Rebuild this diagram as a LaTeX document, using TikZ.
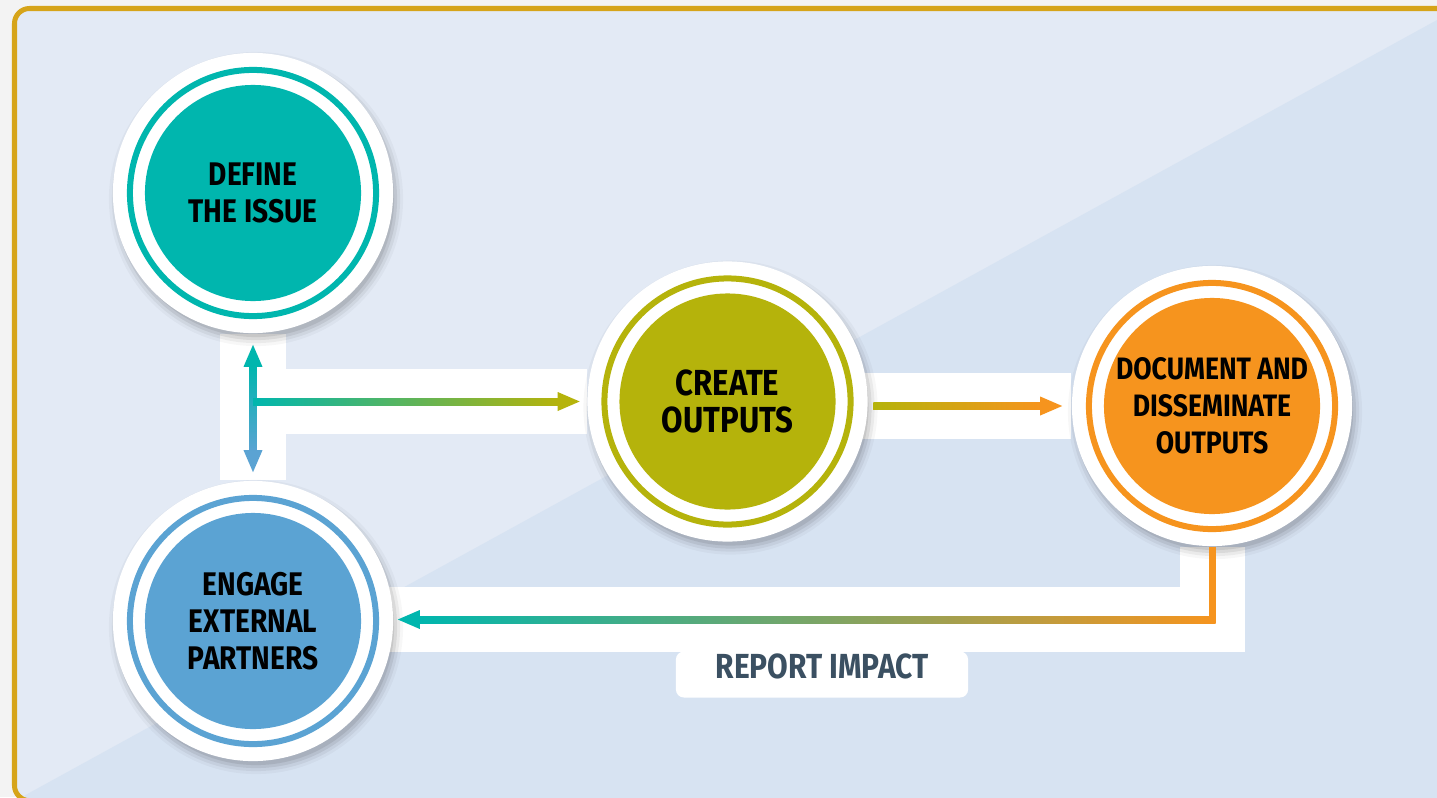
\documentclass[tikz,border=0pt]{standalone}
\usepackage{fontspec}
\newfontfamily\stagefont{Fira Sans}[FakeStretch=0.86]
\usetikzlibrary{arrows.meta,calc}

\pgfdeclarelayer{behind}
\pgfsetlayers{behind,main}

\definecolor{outerBg}{HTML}{F3F3F3}
\definecolor{frameGold}{HTML}{D6A419}
\definecolor{upperBg}{HTML}{E3EAF5}
\definecolor{lowerBg}{HTML}{D7E3F2}
\definecolor{cTeal}{HTML}{00B6AE}
\definecolor{cBlue}{HTML}{5BA3D3}
\definecolor{cOlive}{HTML}{B5B30B}
\definecolor{cOrange}{HTML}{F6941E}
\definecolor{cSlate}{HTML}{3B5062}

\tikzset{
  stage/.style={circle, fill=white, minimum size=2.8cm, inner sep=0pt, align=center,
    font=\stagefont\bfseries\fontsize{9.3}{10.6}\selectfont,
    path picture={
      \draw[#1, line width=0.06cm] (path picture bounding box.center) circle (1.23cm);
      \fill[#1] (path picture bounding box.center) circle (1.08cm);
    }},
  flow/.style={line width=0.07cm, -{Triangle[length=0.23cm, width=0.17cm]}},
  band/.style={white, line width=0.65cm},
}

\begin{document}
\begin{tikzpicture}[x=0.01cm, y=-0.01cm]
\useasboundingbox (0,0) rectangle (1437,797);

% the four stages
\node[stage=cTeal] (define) at (253,193) {DEFINE\\THE ISSUE};
\node[stage=cOlive, font=\stagefont\bfseries\fontsize{10.3}{10.3}\selectfont] (create) at (727.5,401.5) {CREATE\\OUTPUTS};
\node[stage=cOrange, font=\stagefont\bfseries\fontsize{8.8}{10.5}\selectfont] (document) at (1212,406) {DOCUMENT AND\\DISSEMINATE\\OUTPUTS};
\node[stage=cBlue] (engage) at (253,621) {ENGAGE\\EXTERNAL\\PARTNERS};

\coordinate (split) at (define |- create);
\coordinate (turn) at (1212,619.5);

\node[fill=white, rounded corners=0.08cm, minimum width=2.92cm, minimum height=0.46cm,
  inner sep=0pt, text height=0.24cm, text depth=0.17cm, text=cSlate,
  font=\stagefont\bfseries\fontsize{9.9}{10}\selectfont] (report) at (822,674.5) {REPORT IMPACT};

\begin{pgfonlayer}{behind}
\fill[outerBg] (0,0) rectangle (1437,797);
\draw[frameGold, fill=upperBg, line width=0.05cm, rounded corners=0.15cm] (14.5,8.5) rectangle (1480,800.5);
\begin{scope}
\clip[rounded corners=0.13cm] (17,11) rectangle (1478,798);
\fill[lowerBg] (20,798) -- (1480,-3.6) -- (1480,800) -- (20,800) -- cycle;
\end{scope}

% white bands
\draw[band] (define) -- (engage);
\draw[band] (split) -- (create);
\draw[band] (create.center |- document) -- (document);
\draw[band] (document) -- (turn) -- (engage |- turn);

% soft shadows
\foreach \n in {define,create,document,engage}
  \foreach \r/\o in {1.47/0.03,1.44/0.05,1.41/0.07,1.38/0.08}
    \fill[black, opacity=\o] ($(\n)+(3,6)$) circle (\r cm);
\end{pgfonlayer}

% connectors
\draw[flow, cTeal] (split) -- ($(define.south)+(0,10)$);
\draw[flow, cBlue] (split) -- ($(engage.north)+(0,-7)$);
\shade[top color=cTeal, bottom color=cBlue] ($(define.south)+(-3.5,32)$) rectangle ($(engage.north)+(3.5,-29)$);

\draw[flow, cOlive] (split) -- ($(create.west)+(-6,0)$);
\shade[left color=cTeal, right color=cOlive] ($(split)+(0,-3.5)$) rectangle ($(create.west)+(-28,3.5)$);

\draw[flow, cOrange] ($(create.east |- document)+(5,0)$) -- ($(document.west)+(-8,0)$);
\shade[left color=cOlive, right color=cOrange] ($(create.east |- document)+(5,-3.5)$) rectangle ($(document.west)+(-30,3.5)$);

\draw[flow, cTeal] (document.south) -- (turn) -- ($(engage.east |- turn)+(3,0)$);
\draw[line width=0.07cm, cOrange] (document.south) -- (turn);
\shade[left color=cTeal, right color=cOrange] ($(engage.east |- turn)+(25,-3.5)$) rectangle ($(turn)+(3.5,3.5)$);

\end{tikzpicture}
\end{document}
